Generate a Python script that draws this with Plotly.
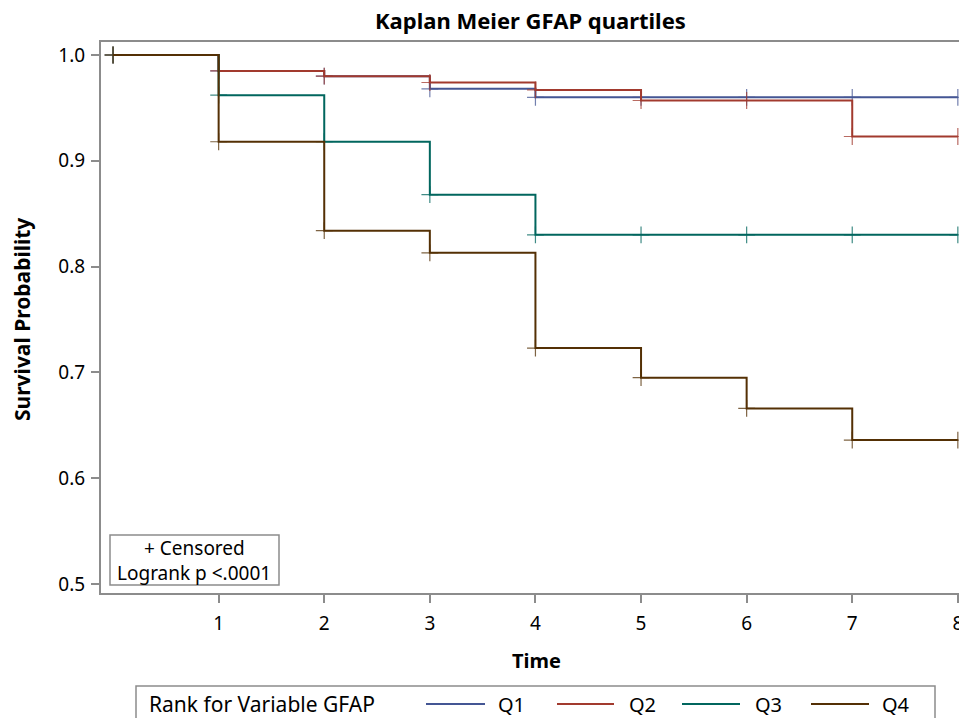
import plotly.graph_objects as go

times = [0, 1, 2, 3, 4, 5, 6, 7, 8]
q1 = [1.0, 0.985, 0.980, 0.968, 0.960, 0.960, 0.960, 0.960, 0.960]
q2 = [1.0, 0.985, 0.980, 0.974, 0.967, 0.957, 0.957, 0.923, 0.923]
q3 = [1.0, 0.962, 0.918, 0.868, 0.830, 0.830, 0.830, 0.830, 0.830]
q4 = [1.0, 0.918, 0.834, 0.813, 0.723, 0.695, 0.666, 0.636, 0.636]
names = ["Q1", "Q2", "Q3", "Q4"]
colors = ["#445694", "#A23A2E", "#01665E", "#543005"]
x_ticks = [1, 2, 3, 4, 5, 6, 7, 8]
y_ticks = [0.5, 0.6, 0.7, 0.8, 0.9, 1.0]

FONT = "Noto Sans"
W, H = 959, 718
L, R, T, B = 101, 0, 42, 125
pw, ph = W - L - R, H - T - B

def px(x):
    return (x - L) / pw

def py(y):
    return (H - B - y) / ph

fig = go.Figure()
for name, ys, c in zip(names, [q1, q2, q3, q4], colors):
    fig.add_trace(go.Scatter(
        x=times, y=ys, name=name, mode="lines+markers", line_shape="hv",
        line=dict(color=c, width=2),
        marker=dict(symbol="cross-thin", size=12, opacity=0.75,
                    line=dict(color=c, width=1.2)),
        showlegend=False, cliponaxis=False))

fig.update_layout(
    width=W, height=H, margin=dict(l=L, r=R, t=T, b=B, autoexpand=False),
    paper_bgcolor="white", plot_bgcolor="white",
    font=dict(family=FONT, size=19, color="black"),
    xaxis=dict(range=[-0.114, 8.011], tickvals=x_ticks, ticks="outside",
               ticklen=8, tickcolor="#8c8c8c", tickwidth=1.5,
               showgrid=False, zeroline=False, showline=True,
               linecolor="#8c8c8c", linewidth=2, mirror=True,
               tickfont=dict(size=19), ticklabelstandoff=4,
               ticklabeloverflow="allow", automargin=False),
    yaxis=dict(range=[0.4915, 1.0123], tickvals=y_ticks,
               ticktext=[f"{v:.1f}" for v in y_ticks], ticks="outside",
               ticklen=8, tickcolor="#8c8c8c", tickwidth=1.5,
               showgrid=False, zeroline=False, showline=True,
               linecolor="#8c8c8c", linewidth=2, mirror=False,
               tickfont=dict(size=19), ticklabelstandoff=2, automargin=False),
)

ann = []
ann.append(dict(text="<b>Kaplan Meier GFAP quartiles</b>", x=0.5, y=py(20),
                xref="paper", yref="paper", showarrow=False,
                font=dict(size=22), xanchor="center", yanchor="middle"))
ann.append(dict(text="<b>Time</b>", x=px(536), y=py(660), xref="paper",
                yref="paper", showarrow=False, font=dict(size=20),
                xanchor="center", yanchor="middle"))
ann.append(dict(text="<b>Survival Probability</b>", x=px(22), y=py(320),
                xref="paper", yref="paper", showarrow=False,
                font=dict(size=21), textangle=-90,
                xanchor="center", yanchor="middle"))
# inset box
ann.append(dict(text="+ Censored", x=px(194), y=py(548), xref="paper",
                yref="paper", showarrow=False, font=dict(size=19),
                xanchor="center", yanchor="middle"))
ann.append(dict(text="Logrank p <.0001", x=px(194), y=py(573), xref="paper",
                yref="paper", showarrow=False, font=dict(size=19),
                xanchor="center", yanchor="middle"))

shapes = [dict(type="rect", xref="paper", yref="paper",
               x0=px(110), x1=px(279), y0=py(535), y1=py(585),
               line=dict(color="#8c8c8c", width=1.5), fillcolor="rgba(0,0,0,0)")]

# legend
shapes.append(dict(type="rect", xref="paper", yref="paper",
                   x0=px(136), x1=px(935), y0=py(686), y1=py(730),
                   line=dict(color="#8c8c8c", width=1.5), fillcolor="rgba(0,0,0,0)"))
ann.append(dict(text="Rank for Variable GFAP", x=px(147), y=py(704),
                xref="paper", yref="paper", showarrow=False,
                font=dict(size=21), xanchor="left", yanchor="middle"))
leg_x = [(426, 485, 496), (557, 614, 627), (682, 740, 753), (811, 869, 880)]
for (a, b, t), name, c in zip(leg_x, names, colors):
    shapes.append(dict(type="line", xref="paper", yref="paper",
                       x0=px(a), x1=px(b), y0=py(704), y1=py(704),
                       line=dict(color=c, width=2)))
    ann.append(dict(text=name, x=px(t), y=py(704), xref="paper", yref="paper",
                    showarrow=False, font=dict(size=20), xanchor="left",
                    yanchor="middle"))

fig.update_layout(annotations=ann, shapes=shapes)
post = (
    "document.documentElement.style.overflow='hidden';"
    "document.body.style.margin='0';document.body.style.overflow='hidden';"
)
fig.write_html("out.html", config={"displayModeBar": False}, post_script=post)
